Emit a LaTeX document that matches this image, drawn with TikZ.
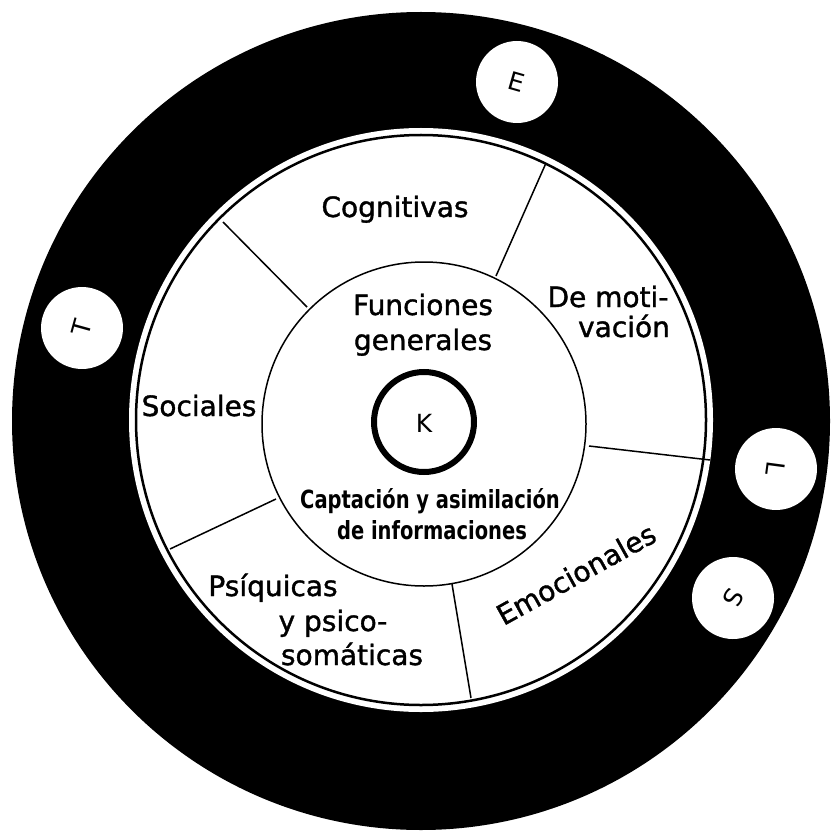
\documentclass[tikz,border=0pt]{standalone}
\usepackage{fontspec}
\setmainfont{DejaVu Sans}
\newfontfamily\medfont{DejaVu Sans}[FakeBold=1.3]
\begin{document}
\begin{tikzpicture}[x=1pt,y=-1pt,
  lab/.style={font=\medfont\fontsize{28}{30}\selectfont, inner sep=0pt, anchor=base},
  boldlab/.style={font=\bfseries\fontsize{25}{27}\selectfont, inner sep=0pt, anchor=base, xscale=0.78},
  smallc/.style={circle, fill=white, minimum size=82pt, inner sep=0pt, font=\fontsize{25}{27}\selectfont},
  divider/.style={line width=1.5pt}]
\useasboundingbox (0,0) rectangle (832,834);
\fill[white] (0,0) rectangle (832,834);
% rings
\fill[black] (421,421) circle[radius=409pt];
\fill[white] (421,420) circle[radius=292pt];
\draw[line width=2.5pt] (421,420) circle[radius=285pt];
\draw[line width=1.5pt] (424,424) circle[radius=162pt];
\draw[line width=6pt] (424,422) circle[radius=50pt];
% dividers
\draw[divider] (223,222) -- (307,307);
\draw[divider] (546,163) -- (496,276);
\draw[divider] (589,446) -- (710,460);
\draw[divider] (452,584) -- (471,698);
\draw[divider] (276,499) -- (170,549);
% small circles on the black ring
\node[smallc, rotate=-16] (e) at (517,82) {E};
\node[smallc, rotate=74.5] (t) at (82,328) {T};
\node[smallc, rotate=-97.6] (l) at (776,469) {L};
\node[smallc, rotate=-119.5] (s) at (733,598) {S};
% labels
\node[lab] (cog) at (395,217) {Cognitivas};
\node[lab] (fun) at (423,315) {Funciones};
\node[lab] (gen) at (423,350) {generales};
\node[lab] (mot1) at (608,307) {De moti-};
\node[lab] (mot2) at (624,337) {vación};
\node[lab] (soc) at (199,416) {Sociales};
\node[font=\fontsize{25}{27}\selectfont, inner sep=0pt] (k) at (424,423) {K};
\node[boldlab] (cap1) at (430,508) {Captación y asimilación};
\node[boldlab] (cap2) at (432,539) {de informaciones};
\node[lab] (psi1) at (273,596) {Psíquicas};
\node[lab] (psi2) at (333,631) {y psico-};
\node[lab] (psi3) at (352,665) {somáticas};
\node[lab, anchor=center, rotate=29] (emo) at (576,574) {Emocionales};
\end{tikzpicture}
\end{document}
